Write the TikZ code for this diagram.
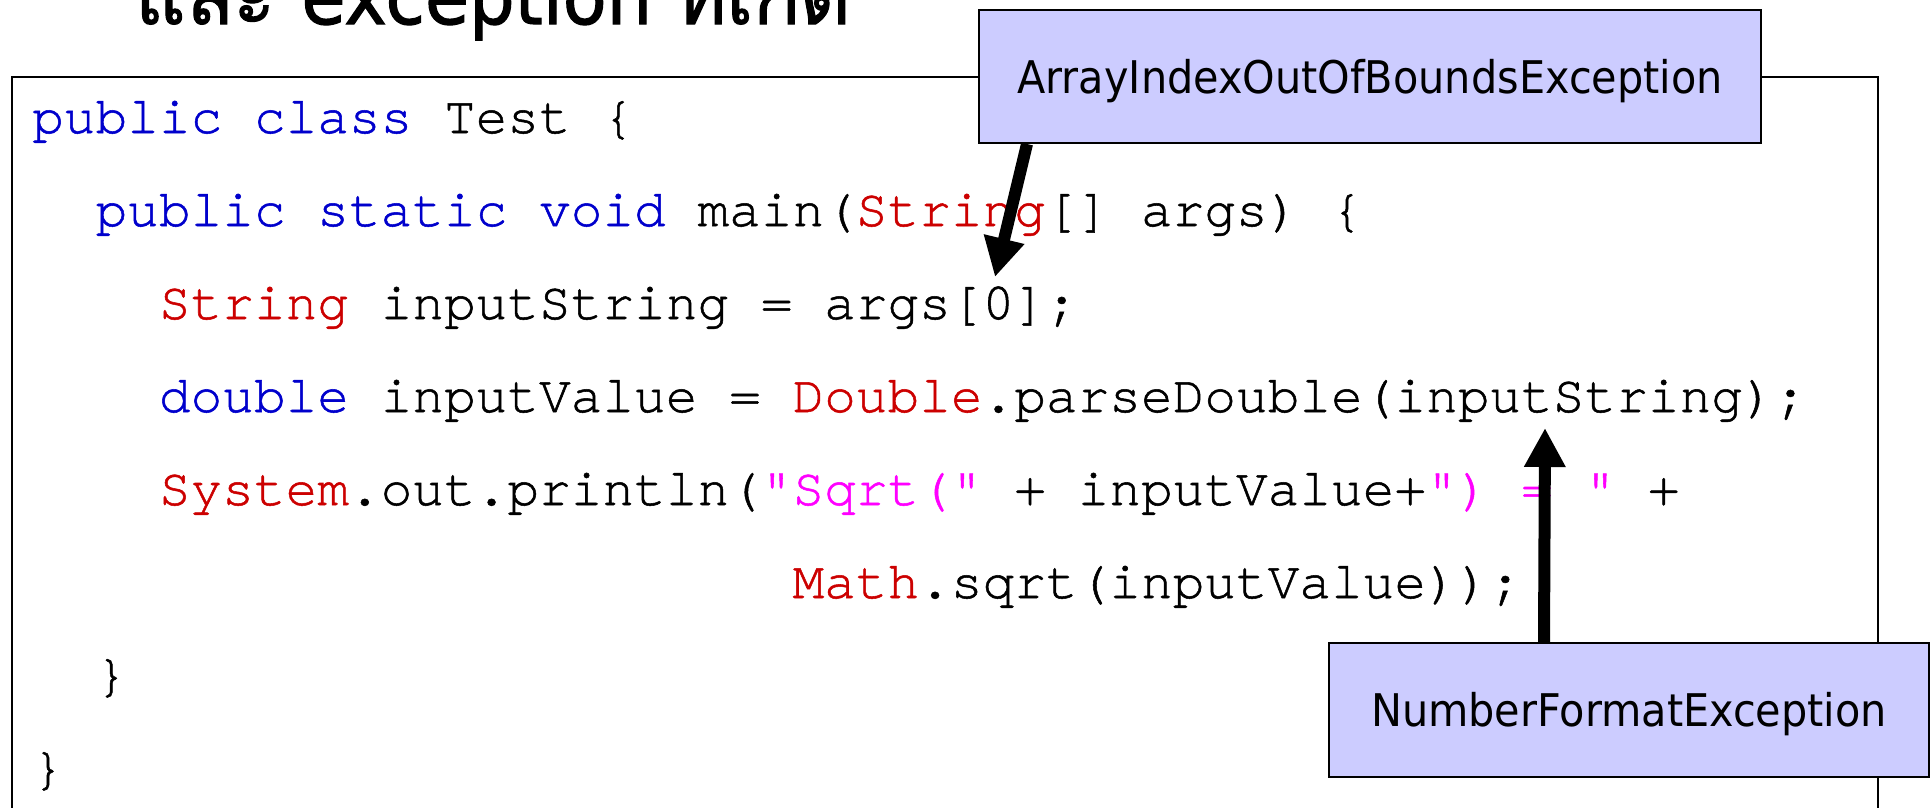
\documentclass[tikz,border=0pt]{standalone}
\usepackage{fontspec}
\setmonofont[FakeBold=1]{texgyrecursor-regular.otf}
\newfontfamily\labelfont[FakeStretch=0.92]{DejaVu Sans}
\newfontfamily\headfont[FakeStretch=0.92,FakeBold=1.5]{DejaVu Sans}
\newfontfamily\thaifont[Script=Thai,FakeBold=1.5]{Loma}
\usetikzlibrary{arrows.meta}

\definecolor{jkwcol}{RGB}{0,0,204}
\definecolor{jclscol}{RGB}{204,0,0}
\definecolor{jstrcol}{RGB}{255,0,255}
\definecolor{exfill}{RGB}{204,204,255}

% syntax colouring for the Java listing
\newcommand{\jkw}[1]{\textcolor{jkwcol}{#1}}
\newcommand{\jcls}[1]{\textcolor{jclscol}{#1}}
\newcommand{\jstr}[1]{\textcolor{jstrcol}{#1}}

\tikzset{
  codeline/.style={anchor=base west, inner sep=0pt,
    font=\ttfamily\fontsize{52.8}{60}\selectfont},
  exbox/.style={draw, line width=2pt, fill=exfill, inner sep=0pt,
    font=\labelfont\fontsize{45}{54}\selectfont,
    text height=33pt, text depth=0pt},
  bigarrow/.style={line width=12pt, -{Triangle[length=39pt,width=39pt]}},
}

\begin{document}
\begin{tikzpicture}[x=1pt,y=-1pt]
  \useasboundingbox (0,0) rectangle (1931,807);
  \clip (0,0) rectangle (1931,807);

  % heading, cut by the top edge
  \node[anchor=base west, inner sep=0pt, font=\fontsize{78}{90}\selectfont]
    (title) at (135,24) {\thaifont และ \headfont exception \thaifont ที่เกิด};

  % frame round the listing (runs past the bottom edge)
  \draw[line width=2.5pt] (12,830) -- (12,77) -- (1878,77) -- (1878,830);

  % the listing: one cell = 31.68pt, origin at x = 32
  \node[codeline] (l1) at (32,133)
    {\jkw{public class} Test \{};
  \node[codeline] (l2) at ({32+2*31.68},226)
    {\jkw{public static void} main(\jcls{String}[] args) \{};
  \node[codeline] (l3) at ({32+4*31.68},319)
    {\jcls{String} inputString = args[0];};
  \node[codeline] (l4) at ({32+4*31.68},412)
    {\jkw{double} inputValue = \jcls{Double}.parseDouble(inputString);};
  \node[codeline] (l5) at ({32+4*31.68},505)
    {\jcls{System}.out.println(\jstr{"Sqrt("} + inputValue+\jstr{") = "} +};
  \node[codeline] (l6) at ({32+24*31.68},598)
    {\jcls{Math}.sqrt(inputValue));};
  \node[codeline] (l7) at ({32+2*31.68},691) {\}};
  \node[codeline] (l8) at (32,784) {\}};

  % exception callouts
  \node[exbox, minimum width=782pt, minimum height=133pt] (aioobe)
    at (1370,76.5) {ArrayIndexOutOfBoundsException};
  \node[exbox, minimum width=600pt, minimum height=134pt] (nfe)
    at (1629,710) {NumberFormatException};

  % where each exception is raised
  \coordinate (argsidx) at (995,277);
  \coordinate (parsecall) at (1545,428);
  \draw[bigarrow] ([xshift=49pt]aioobe.south west) -- (argsidx);
  \draw[bigarrow] ([xshift=216pt]nfe.north west) -- (parsecall);
\end{tikzpicture}
\end{document}
